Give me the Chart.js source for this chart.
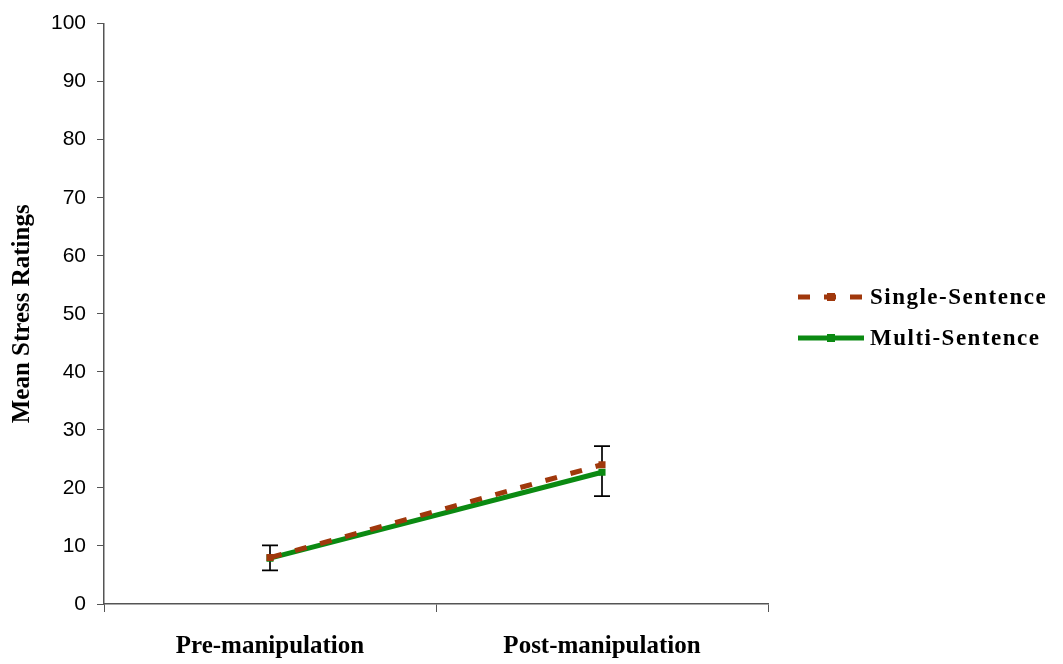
<!DOCTYPE html>
<html>
<head>
<meta charset="utf-8">
<script src="https://cdn.jsdelivr.net/npm/chart.js@4"></script>
<style>
  html, body { margin: 0; padding: 0; background: #fff; }
  #wrap { width: 1063px; height: 664px; }
</style>
</head>
<body>
<div id="wrap"><canvas id="stressChart"></canvas></div>
<script>
// stress ratings before and after the manipulation
var phases = ['Pre-manipulation', 'Post-manipulation'];
var singleMeans = [8.0, 24.0];
var multiMeans = [7.9, 22.7];
// single-sentence bars point up, multi-sentence bars point down
var singleErr = [2.1, 3.2];
var multiErr = [2.1, 4.1];
var yTicks = [0, 10, 20, 30, 40, 50, 60, 70, 80, 90, 100];

var brown = '#a0380c';
var green = '#0b8a12';
var serif = '"Liberation Serif", "Times New Roman", serif';

// Draws the error bars under the lines
var errorBars = {
    id: 'errorBars',
    beforeDatasetsDraw: function(chart) {
        var ctx = chart.ctx;
        var x = chart.scales.x;
        var y = chart.scales.y;
        ctx.save();
        ctx.strokeStyle = '#000';
        ctx.lineWidth = 1.7;
        for (var i = 0; i < phases.length; i++) {
            var px = x.getPixelForValue(i);
            var top = y.getPixelForValue(singleMeans[i] + singleErr[i]);
            var bottom = y.getPixelForValue(multiMeans[i] - multiErr[i]);
            ctx.beginPath();
            ctx.moveTo(px, y.getPixelForValue(singleMeans[i]));
            ctx.lineTo(px, top);
            ctx.moveTo(px - 8, top);
            ctx.lineTo(px + 8, top);
            ctx.moveTo(px, y.getPixelForValue(multiMeans[i]));
            ctx.lineTo(px, bottom);
            ctx.moveTo(px - 8, bottom);
            ctx.lineTo(px + 8, bottom);
            ctx.stroke();
        }
        ctx.restore();
    }
};

// Legend on the right side
var sideLegend = {
    id: 'sideLegend',
    afterDraw: function(chart) {
        var ctx = chart.ctx;
        var items = chart.data.datasets;
        ctx.save();
        ctx.font = 'bold 23px ' + serif;
        ctx.letterSpacing = '1.5px';
        ctx.textBaseline = 'middle';
        for (var i = 0; i < items.length; i++) {
            var ds = items[i];
            var cy = 297 + i * 41;
            ctx.strokeStyle = ds.borderColor;
            ctx.lineWidth = 5;
            ctx.setLineDash(ds.borderDash || []);
            ctx.beginPath();
            ctx.moveTo(798, cy);
            ctx.lineTo(864, cy);
            ctx.stroke();
            ctx.setLineDash([]);
            ctx.fillStyle = ds.borderColor;
            ctx.fillRect(827, cy - 4, 8, 8);
            ctx.fillStyle = '#000';
            ctx.fillText(ds.label, 870, cy + 1);
        }
        ctx.restore();
    }
};

var ctx = document.getElementById('stressChart').getContext('2d');
new Chart(ctx, {
    type: 'line',
    data: {
        labels: phases,
        datasets: [{
            label: 'Single-Sentence',
            data: singleMeans,
            borderColor: brown,
            backgroundColor: brown,
            borderWidth: 5,
            borderDash: [12, 14],
            pointStyle: 'rect',
            pointRadius: 5,
            pointBorderWidth: 0,
            tension: 0
        }, {
            label: 'Multi-Sentence',
            data: multiMeans,
            borderColor: green,
            backgroundColor: green,
            borderWidth: 5,
            pointStyle: 'rect',
            pointRadius: 5,
            pointBorderWidth: 0,
            tension: 0
        }]
    },
    options: {
        responsive: true,
        maintainAspectRatio: false,
        animation: false,
        layout: { padding: { top: 23, right: 295, left: 0, bottom: 0 } },
        plugins: {
            legend: { display: false },
            tooltip: { enabled: false }
        },
        scales: {
            x: {
                offset: true,
                afterFit: function(scale) { scale.height = 60; },
                border: { display: true, color: '#555', width: 1.5 },
                grid: { display: true, drawOnChartArea: false, drawTicks: true, tickLength: 8, color: '#555', offset: true },
                ticks: {
                    color: '#000',
                    padding: 20,
                    font: { family: serif, size: 25, weight: 'bold' }
                }
            },
            y: {
                min: 0,
                max: 100,
                afterFit: function(scale) { scale.width = 104; },
                afterBuildTicks: function(scale) {
                    scale.ticks = yTicks.map(function(v) { return { value: v }; });
                },
                border: { display: true, color: '#555', width: 1.5 },
                grid: { display: true, drawOnChartArea: false, drawTicks: true, tickLength: 7, color: '#555' },
                ticks: {
                    color: '#000',
                    padding: 11,
                    font: { family: '"Liberation Sans", Arial, sans-serif', size: 21 }
                },
                title: {
                    display: true,
                    text: 'Mean Stress Ratings',
                    color: '#000',
                    padding: { top: 8, bottom: 0 },
                    font: { family: serif, size: 25, weight: 'bold' }
                }
            }
        }
    },
    plugins: [errorBars, sideLegend]
});
</script>
</body>
</html>
